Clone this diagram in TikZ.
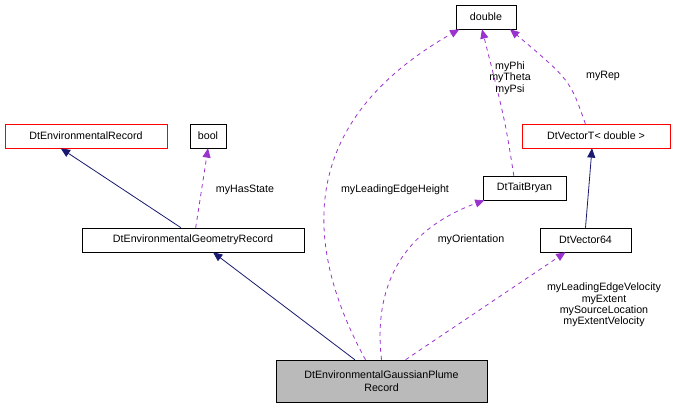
\documentclass[tikz,border=0pt]{standalone}
\usepackage{fontspec}
\setmainfont{Liberation Sans}
\usetikzlibrary{arrows.meta}
\definecolor{usecol}{HTML}{9A32CD}
\definecolor{inhcol}{HTML}{191970}
\tikzset{
    cls/.style={draw, fill=white, inner sep=0pt, minimum height=18pt,
        font=\fontsize{8}{9.5}\selectfont},
    redcls/.style={cls, draw=red},
    inherit/.style={draw=inhcol, line width=0.6pt, -{Triangle[length=7pt, width=6pt]}},
    uses/.style={draw=usecol, line width=0.6pt, dashed, -{Triangle[length=7pt, width=6pt]}},
    lbl/.style={font=\fontsize{8}{8.5}\selectfont, align=center, inner sep=1pt},
}
\begin{document}
\begin{tikzpicture}[x=0.75pt, y=-0.75pt]
    \useasboundingbox (0, 0) rectangle (681, 408);
    % Classes
    \node[cls, minimum width=45pt] (dbl) at (486, 17) {double};
    \node[redcls, minimum width=121.5pt] (envrec) at (86, 136) {DtEnvironmentalRecord};
    \node[cls, minimum width=27pt] (bool) at (208, 136) {bool};
    \node[cls, minimum width=166.5pt] (geo) at (193, 240) {DtEnvironmentalGeometryRecord};
    \node[cls, minimum width=62pt] (tait) at (524.5, 188) {DtTaitBryan};
    \node[redcls, minimum width=111pt] (vect) at (596, 136) {DtVectorT< double >};
    \node[cls, minimum width=68pt] (vec64) at (585.5, 240) {DtVector64};
    \node[cls, fill=black!27, minimum width=158pt, minimum height=31.5pt,
        align=center] (plume) at (381.5, 381) {DtEnvironmentalGaussianPlume\\Record};

    % Inheritance
    \draw[inherit] (geo.north) ++(-12, 0) -- ([xshift=42pt]envrec.south west);
    \draw[inherit] ([xshift=-20pt]plume.north) -- ([xshift=15pt]geo.south);
    \draw[inherit] (vec64.north) -- ([xshift=-3pt]vect.south);

    % Members
    \draw[uses] ([xshift=2pt]geo.north) -- (bool.south);
    \node[lbl] (lhs) at (245, 190) {myHasState};
    \draw[uses] ([xshift=-12pt]plume.north) .. controls (300, 240) and (300, 120) .. ([xshift=-20pt]dbl.south);
    \node[lbl] (lleh) at (395, 190) {myLeadingEdgeHeight};
    \draw[uses] ([xshift=-8pt]tait.north) .. controls (505, 120) .. ([xshift=-3pt]dbl.south);
    \node[lbl] (lang) at (510, 78) {myPhi\\myTheta\\myPsi};
    \draw[uses] ([xshift=-8pt]vect.north) .. controls (570, 80) .. ([xshift=18pt]dbl.south);
    \node[lbl] (lrep) at (603, 76) {myRep};
    \draw[uses] (plume.north) .. controls (370, 260) and (430, 220) .. ([xshift=-30pt]tait.south);
    \node[lbl] (lori) at (471, 240) {myOrientation};
    \draw[uses] ([xshift=18pt]plume.north) -- ([xshift=-15pt]vec64.south);
    \node[lbl] (lvel) at (604, 305) {myLeadingEdgeVelocity\\myExtent\\mySourceLocation\\myExtentVelocity};
\end{tikzpicture}
\end{document}
